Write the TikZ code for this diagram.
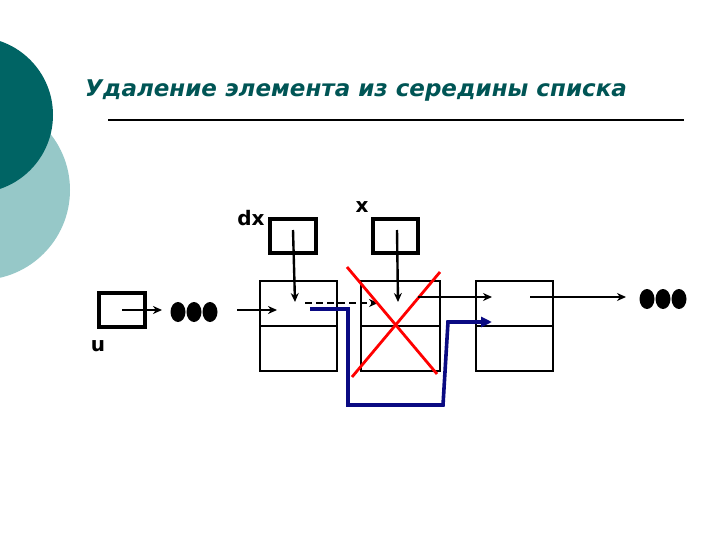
\documentclass[tikz,border=0pt]{standalone}
\usepackage{fontspec}
\setmainfont{DejaVu Sans}
\usetikzlibrary{arrows.meta}
\begin{document}
\begin{tikzpicture}[x=1pt,y=-1pt,
  box/.style={draw,line width=3.2pt},
  cell/.style={draw,line width=2pt},
  ptr/.style={-{Stealth[length=9pt,width=8pt]},line width=2.4pt},
  dot/.style={fill=black,draw=none},
  lbl/.style={font=\bfseries\fontsize{20}{20}\selectfont,inner sep=0pt}]
\useasboundingbox (0,0) rectangle (720,540);
\fill[white] (0,0) rectangle (720,540);
\begin{scope}
\clip (0,0) rectangle (720,540);
\fill[color={rgb,255:red,150;green,200;blue,200}] (-20,190) circle (90);
\fill[color={rgb,255:red,0;green,100;blue,100}] (-25,115) circle (78);
\end{scope}
\node[anchor=west,inner sep=0pt,color={rgb,255:red,0;green,85;blue,85},font=\bfseries\itshape\fontsize{23}{23}\selectfont] (title) at (85,91) {Удаление элемента из середины списка};
\draw[line width=1.2pt] (108,120) -- (684,120);
% u
\draw[box] (99,293) rectangle (145,327);
\node[lbl] (u) at (98,346) {u};
\coordinate (us) at (122,310);
\coordinate (ue) at (162,310);
\draw[ptr] (us) -- (ue);
\foreach \xx in {178,194,210} \fill[dot] (\xx,312) ellipse (7.5 and 10);
\coordinate (a1) at (237,310); \coordinate (a2) at (277,310);
\draw[ptr] (a1) -- (a2);
% nodes
\foreach \xa/\xb in {260/337,361/440,476/553}{
 \draw[cell] (\xa,281) rectangle (\xb,371);
 \draw[cell] (\xa,326) -- (\xb,326);}
% dx, x
\draw[box] (270,219) rectangle (316,253);
\node[lbl] (dx) at (251,218) {dx};
\draw[box] (373,219) rectangle (418,253);
\node[lbl] (x) at (362,207) {x};
\coordinate (d1) at (293,230); \coordinate (d2) at (295,302);
\draw[ptr] (d1) -- (d2);
\coordinate (x1) at (397,230); \coordinate (x2) at (398,302);
\draw[ptr] (x1) -- (x2);
\coordinate (e1) at (305,303); \coordinate (e2) at (378,303);
\draw[ptr,dash pattern=on 7pt off 4pt] (e1) -- (e2);
% red cross
\draw[red,line width=2.8pt] (347,267) -- (437,374);
\draw[red,line width=2.8pt] (440,272) -- (352,377);
% next arrows
\coordinate (n1) at (418,297); \coordinate (n2) at (492,297);
\draw[ptr] (n1) -- (n2);
\coordinate (m1) at (530,297); \coordinate (m2) at (626,297);
\draw[ptr] (m1) -- (m2);
\foreach \xx in {647,663,679} \fill[dot] (\xx,299) ellipse (7.5 and 10);
% blue bypass
\coordinate (b1) at (310,309); \coordinate (b2) at (492,322);
\draw[color={rgb,255:red,10;green,10;blue,130},line width=3.6pt,-{Triangle[length=11pt,width=10pt]}]
 (b1) -- (348,309) -- (348,405) -- (443,405) -- (448,322) -- (b2);
\end{tikzpicture}
\end{document}
